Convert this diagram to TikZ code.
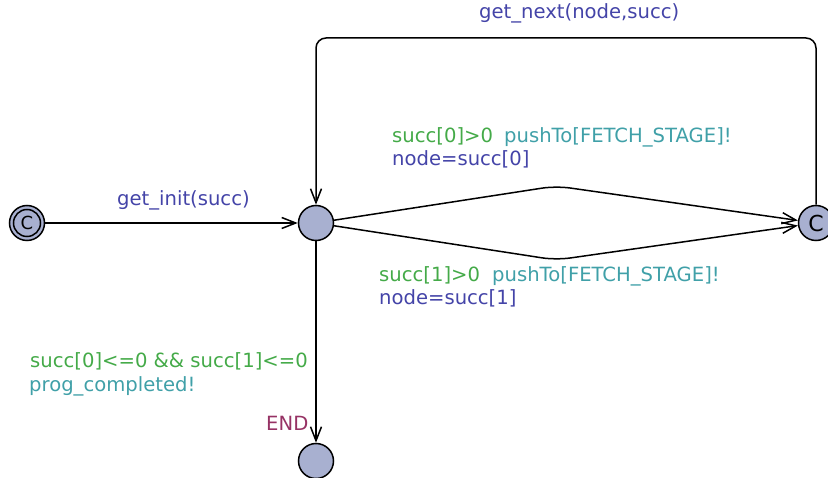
\documentclass[tikz,border=0pt]{standalone}
\usepackage{fontspec}
\setmainfont{DejaVu Sans}
\usetikzlibrary{arrows.meta}
\definecolor{locfill}{RGB}{168,176,208}
\definecolor{guardc}{RGB}{68,170,72}
\definecolor{syncc}{RGB}{64,160,168}
\definecolor{updc}{RGB}{68,68,168}
\definecolor{namec}{RGB}{150,50,100}
\begin{document}
\begin{tikzpicture}[x=1pt,y=-1pt,
  loc/.style={circle,draw,line width=1.5pt,fill=locfill,minimum size=35pt,inner sep=0pt,font=\fontsize{22}{22}\selectfont},
  edge/.style={line width=1.5pt,-{Straight Barb[length=14pt,width=11pt]}},
  lbl/.style={anchor=base west,inner sep=0pt,font=\fontsize{19.6}{22}\selectfont}]
\useasboundingbox (0,0) rectangle (828,478);
\node[loc] (init) at (27,223) {};
\node[circle,draw,line width=1.5pt,minimum size=27pt,inner sep=0pt,font=\fontsize{18}{18}\selectfont] (initin) at (27,223) {C};
\node[loc] (mid) at (316,223) {};
\node[loc] (right) at (816,223) {C};
\node[loc] (end) at (316,461) {};
\coordinate (up) at (556,186);
\coordinate (dn) at (556,260);
\coordinate (tr) at (816,38);
\coordinate (tl) at (316,38);
\draw[edge] (init) -- (mid);
\draw[edge,rounded corners=14pt] (mid) -- (up) -- (right);
\draw[edge,rounded corners=14pt] (mid) -- (dn) -- (right);
\draw[edge,rounded corners=10pt] (right) -- (tr) -- (tl) -- (mid);
\draw[edge] (mid) -- (end);
\node[lbl,text=updc] (l1) at (117,206) {get\_init(succ)};
\node[lbl,text=updc] (l2) at (479,19) {get\_next(node,succ)};
\node[lbl,text=guardc] (l3) at (392,143) {succ[0]>0};
\node[lbl,text=syncc] (l4) at (504,143) {pushTo[FETCH\_STAGE]!};
\node[lbl,text=updc] (l5) at (392,166) {node=succ[0]};
\node[lbl,text=guardc] (l6) at (379,282) {succ[1]>0};
\node[lbl,text=syncc] (l7) at (492,282) {pushTo[FETCH\_STAGE]!};
\node[lbl,text=updc] (l8) at (379,305) {node=succ[1]};
\node[lbl,text=guardc] (l9) at (30,368) {succ[0]<=0 \&\& succ[1]<=0};
\node[lbl,text=syncc] (l10) at (29,392) {prog\_completed!};
\node[lbl,text=namec] (l11) at (266,431) {END};
\end{tikzpicture}
\end{document}
